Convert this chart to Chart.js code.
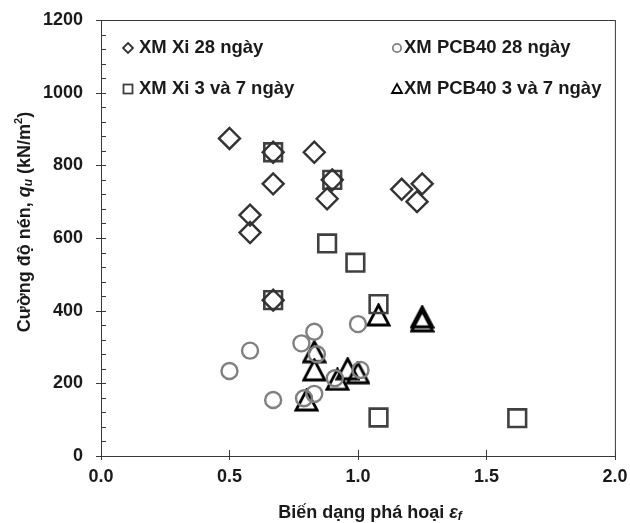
<!DOCTYPE html>
<html>
<head>
<meta charset="utf-8">
<script src="https://cdn.jsdelivr.net/npm/chart.js@4.4.0/dist/chart.umd.min.js"></script>
<style>
    html, body { margin: 0; padding: 0; background: #fff; }
</style>
</head>
<body>
<canvas id="graph" width="630" height="523"></canvas>
<script>
const FONT = '"Liberation Sans", Arial, sans-serif';

// tick labels
const xTicks = [0.0, 0.5, 1.0, 1.5, 2.0];
const yTicks = [0, 200, 400, 600, 800, 1000, 1200];

// XM Xi 28 ngay
const xi28X = [0.50, 0.67, 0.83, 0.67, 0.90, 0.88, 0.58, 0.58, 0.67, 1.17, 1.25, 1.23];
const xi28Y = [874, 836, 836, 749, 760, 708, 663, 615, 429, 734, 749, 700];

// XM Xi 3 va 7 ngay
const xi37X = [0.67, 0.90, 0.88, 0.99, 0.67, 1.08, 1.08, 1.62];
const xi37Y = [836, 760, 585, 532, 429, 418, 106, 104];

// XM PCB40 28 ngay
const pcb28X = [0.50, 0.58, 0.67, 0.78, 0.83, 0.84, 0.83, 0.79, 0.91, 1.01, 1.00];
const pcb28Y = [234, 290, 154, 310, 342, 280, 171, 159, 214, 237, 363];

// XM PCB40 3 va 7 ngay
const pcb37X = [0.80, 0.83, 0.83, 0.92, 0.96, 1.00, 1.08, 1.25, 1.25];
const pcb37Y = [154, 287, 237, 211, 240, 229, 388, 383, 372];

const seriesLabels = ['XM Xi 28 ngày', 'XM Xi 3 và 7 ngày', 'XM PCB40 28 ngày', 'XM PCB40 3 và 7 ngày'];

function toPoints(xs, ys) {
    return xs.map((x, i) => ({x: x, y: ys[i]}));
}

// excel-like triangle marker (centred on its box)
function makeTriangle() {
    let c = document.createElement('canvas');
    c.width = 25; c.height = 24;
    let t = c.getContext('2d');
    t.strokeStyle = '#000';
    t.lineWidth = 2.8;
    t.lineJoin = 'miter';
    t.beginPath();
    t.moveTo(12.5, 2);
    t.lineTo(23, 22);
    t.lineTo(2, 22);
    t.closePath();
    t.stroke();
    return c;
}

function drawRich(ctx, parts, cx, cy, angle) {
    ctx.save();
    ctx.translate(cx, cy);
    ctx.rotate(angle);
    ctx.textBaseline = 'middle';
    ctx.textAlign = 'left';
    let total = 0;
    parts.forEach(p => { ctx.font = p.f; total += ctx.measureText(p.t).width; });
    let x = -total / 2;
    parts.forEach(p => {
        ctx.font = p.f;
        ctx.fillText(p.t, x, p.dy || 0);
        x += ctx.measureText(p.t).width;
    });
    ctx.restore();
}

const decorPlugin = {
    id: 'decor',
    beforeDatasetsDraw(chart) {
        const ctx = chart.ctx;
        const a = chart.chartArea;
        const xs = chart.scales.x, ys = chart.scales.y;
        ctx.save();
        ctx.strokeStyle = '#3a3a3a';
        ctx.lineWidth = 1;
        ctx.strokeRect(a.left + 0.5, a.top + 0.5, a.right - a.left, a.bottom - a.top);
        ctx.beginPath();
        yTicks.forEach(v => {
            let py = Math.round(ys.getPixelForValue(v)) + 0.5;
            ctx.moveTo(a.left - 5, py);
            ctx.lineTo(a.left + 5, py);
        });
        for (let v = 40; v < 1200; v += 40) {
            if (v % 200 == 0) continue;
            let py = Math.round(ys.getPixelForValue(v)) + 0.5;
            ctx.moveTo(a.left, py);
            ctx.lineTo(a.left + 5, py);
        }
        xTicks.forEach(v => {
            let px = Math.round(xs.getPixelForValue(v)) + 0.5;
            ctx.moveTo(px, a.bottom - 6);
            ctx.lineTo(px, a.bottom + 4);
        });
        ctx.stroke();
        ctx.restore();
    },
    afterDraw(chart) {
        const ctx = chart.ctx;
        ctx.save();
        ctx.fillStyle = '#1a1a1a';

        // axis titles
        const b = 'bold 18px ' + FONT;
        const bi = 'italic bold 18px ' + FONT;
        const si = 'italic bold 12px ' + FONT;
        const s = 'bold 11px ' + FONT;
        drawRich(ctx, [
            {t: 'Cường độ nén, ', f: b},
            {t: 'q', f: bi},
            {t: 'u', f: si, dy: 4},
            {t: ' (kN/m', f: b},
            {t: '2', f: s, dy: -6},
            {t: ')', f: b}
        ], 25, 222, -Math.PI / 2);
        drawRich(ctx, [
            {t: 'Biến dạng phá hoại ', f: b},
            {t: 'ε', f: bi},
            {t: 'f', f: si, dy: 4}
        ], 370, 513, 0);

        // legend
        ctx.font = 'bold 18.5px ' + FONT;
        ctx.textBaseline = 'middle';
        ctx.textAlign = 'left';
        ctx.lineWidth = 1.8;
        const rows = [48, 89];
        // diamond
        ctx.strokeStyle = '#333';
        ctx.beginPath();
        ctx.moveTo(128, rows[0] - 5); ctx.lineTo(133, rows[0]);
        ctx.lineTo(128, rows[0] + 5); ctx.lineTo(123, rows[0]); ctx.closePath();
        ctx.stroke();
        ctx.fillText(seriesLabels[0], 139, rows[0]);
        // square
        ctx.strokeStyle = '#404040';
        ctx.strokeRect(123.5, rows[1] - 4.5, 9, 9);
        ctx.fillText(seriesLabels[1], 139, rows[1]);
        // circle
        ctx.strokeStyle = '#808080';
        ctx.beginPath();
        ctx.arc(397, rows[0], 4.2, 0, Math.PI * 2);
        ctx.stroke();
        ctx.fillText(seriesLabels[2], 404, rows[0]);
        // triangle
        ctx.strokeStyle = '#000';
        ctx.beginPath();
        ctx.moveTo(397, rows[1] - 5); ctx.lineTo(402, rows[1] + 4);
        ctx.lineTo(392, rows[1] + 4); ctx.closePath();
        ctx.stroke();
        ctx.fillText(seriesLabels[3], 404, rows[1]);
        ctx.restore();
    }
};

const scatterGraph = {
    type: 'scatter',
    data: {
        datasets: [
            {
                label: seriesLabels[0],
                data: toPoints(xi28X, xi28Y),
                pointStyle: 'rectRot',
                pointRadius: 10.5,
                borderColor: '#333',
                borderWidth: 2.4,
                backgroundColor: 'rgba(0,0,0,0)'
            },
            {
                label: seriesLabels[1],
                data: toPoints(xi37X, xi37Y),
                pointStyle: 'rect',
                pointRadius: 12.5,
                borderColor: '#404040',
                borderWidth: 2.6,
                backgroundColor: 'rgba(0,0,0,0)'
            },
            {
                label: seriesLabels[2],
                data: toPoints(pcb28X, pcb28Y),
                pointStyle: 'circle',
                pointRadius: 8,
                borderColor: '#808080',
                borderWidth: 2.4,
                backgroundColor: 'rgba(0,0,0,0)'
            },
            {
                label: seriesLabels[3],
                data: toPoints(pcb37X, pcb37Y),
                pointStyle: makeTriangle(),
                pointRadius: 11,
                borderColor: '#000',
                backgroundColor: 'rgba(0,0,0,0)'
            }
        ]
    },
    options: {
        responsive: false,
        animation: false,
        devicePixelRatio: 1,
        layout: { padding: { top: 20, right: 13, left: 0, bottom: 0 } },
        plugins: {
            legend: { display: false },
            tooltip: { enabled: false }
        },
        scales: {
            x: {
                type: 'linear',
                min: 0,
                max: 2,
                afterBuildTicks: s => { s.ticks = xTicks.map(v => ({value: v})); },
                afterFit: s => { s.height = 67; s.paddingLeft = 0; s.paddingRight = 0; },
                grid: { display: false },
                border: { display: false },
                ticks: {
                    padding: 2,
                    color: '#1a1a1a',
                    font: { family: FONT, size: 18, weight: 'bold' },
                    callback: v => v.toFixed(1)
                }
            },
            y: {
                type: 'linear',
                min: 0,
                max: 1200,
                afterBuildTicks: s => { s.ticks = yTicks.map(v => ({value: v})); },
                afterFit: s => { s.width = 101; s.paddingTop = 0; s.paddingBottom = 0; },
                grid: { display: false },
                border: { display: false },
                ticks: {
                    padding: 10,
                    color: '#1a1a1a',
                    font: { family: FONT, size: 18, weight: 'bold' },
                    callback: v => String(v)
                }
            }
        }
    },
    plugins: [decorPlugin]
};

let graph = document.getElementById('graph').getContext('2d');
let displayedGraph = new Chart(graph, scatterGraph);
</script>
</body>
</html>
